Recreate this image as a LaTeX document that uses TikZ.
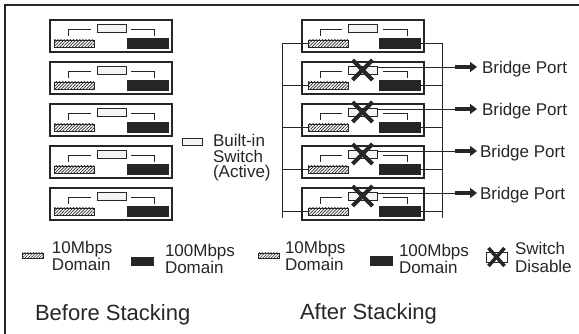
\documentclass[tikz,border=0pt]{standalone}
\usepackage{fontspec}
\setmainfont{Liberation Sans}
\usetikzlibrary{patterns.meta,arrows.meta,calc}
\definecolor{ink}{HTML}{262626}
\definecolor{swfill}{HTML}{F4F4F4}
\tikzset{
  every node/.style={inner sep=0pt,outer sep=0pt},
  unitbox/.style={draw=ink,line width=1.3pt,minimum width=122pt,minimum height=32pt,anchor=north west},
  swbox/.style={draw=ink,line width=0.8pt,fill=swfill,minimum width=29pt,minimum height=8pt,anchor=north west},
  hatchbox/.style={draw=ink,line width=0.7pt,pattern={Lines[angle=45,distance=2.2pt,line width=0.7pt]},pattern color=ink,minimum width=40pt,minimum height=7pt,anchor=north west},
  blackbox/.style={draw=ink,fill=ink,line width=0.6pt,minimum width=41pt,minimum height=10pt,anchor=north west},
  bracket/.style={draw=ink,line width=0.8pt},
  bus/.style={draw=ink,line width=0.9pt},
  xmark/.style={draw=ink,line width=4pt},
  bparrow/.style={draw=ink,line width=3.2pt,-{Triangle[length=7pt,width=10pt]}},
  frame/.style={draw=ink,line width=1.7pt},
  lbl/.style={font=\fontsize{17}{20}\selectfont,anchor=base west,text=ink},
  mlbl/.style={font=\fontsize{17}{#1}\selectfont,align=left,anchor=north west,text=ink},
  title/.style={font=\fontsize{22}{26}\selectfont,anchor=base west,text=ink},
}
\begin{document}
\begin{tikzpicture}[x=1pt,y=-1pt]
\useasboundingbox (0,0) rectangle (579,334);
\draw[frame] (5,334) -- (5,5) -- (579,5);

% ---------- Before stacking ----------
\foreach \i in {0,...,4}{
  \node[unitbox] (L\i) at (50,{20+42*\i}) {};
  \node[swbox] (Ls\i) at ($(L\i.north west)+(47,4)$) {};
  \node[hatchbox] (Lh\i) at ($(L\i.north west)+(4,20)$) {};
  \node[blackbox] (Lb\i) at ($(L\i.north west)+(77,18)$) {};
  \draw[bracket] ($(L\i.north west)+(18,16)$) |- ($(L\i.north west)+(41,9)$);
  \draw[bracket] ($(L\i.north west)+(81,9)$) -| ($(L\i.north west)+(104,16)$);
}

% ---------- After stacking ----------
\coordinate (lbtop) at (282,43.5);
\coordinate (lbbot) at (282,218);
\coordinate (rbtop) at (442,43);
\coordinate (rbbot) at (442,218);
\draw[bus] (lbtop) -- (lbbot);
\draw[bus] (rbtop) -- (rbbot);
\foreach \i in {0,...,4}{
  \node[unitbox] (R\i) at (302,{20+42*\i}) {};
  \node[swbox] (Rs\i) at ($(R\i.north west)+(46,4)$) {};
  \node[hatchbox] (Rh\i) at ($(R\i.north west)+(6,20)$) {};
  \node[blackbox] (Rb\i) at ($(R\i.north west)+(77,18)$) {};
  \draw[bracket] ($(R\i.north west)+(18,16)$) |- ($(R\i.north west)+(40,9)$);
  \draw[bracket] ($(R\i.north west)+(81,9)$) -| ($(R\i.north west)+(105,16)$);
  \draw[bus] (Rh\i.west) -- (Rh\i.west -| lbtop);
  \draw[bus] (Rb\i.east) -- (Rb\i.east -| rbtop);
}
\foreach \i/\tx in {1/482,2/482,3/480,4/480}{
  \draw[xmark] ($(Rs\i.center)+(-10,-10)$) -- ($(Rs\i.center)+(10,10)$);
  \draw[xmark] ($(Rs\i.center)+(-10,10)$) -- ($(Rs\i.center)+(10,-10)$);
  \node[lbl] (bp\i) at (\tx,{32+42*\i}) {Bridge Port};
  \coordinate (ba\i) at (455,{25+42*\i});
  \coordinate (bt\i) at (477,{25+42*\i});
  \draw[bus] ($(Rs\i.north east)+(0,1)$) -- (ba\i);
  \draw[bparrow] (ba\i) -- (bt\i);
}

% ---------- Built-in switch legend ----------
\node[swbox,minimum width=20pt,minimum height=7pt] (legsw) at (182,138) {};
\node[mlbl=15.5] (bi) at (213,134.6) {Built-in\\Switch\\(Active)};

% ---------- bottom legends ----------
\node[hatchbox,minimum width=21pt,minimum height=5pt,pattern={Lines[angle=45,distance=2pt,line width=0.5pt]}] (lg1) at (22,253) {};
\node[mlbl=17] (lg1t) at (52,241.6) {10Mbps\\Domain};
\node[blackbox,minimum width=22pt,minimum height=8pt] (lg2) at (131,257) {};
\node[mlbl=17] (lg2t) at (165,244.6) {100Mbps\\Domain};

\node[hatchbox,minimum width=21pt,minimum height=5pt,pattern={Lines[angle=45,distance=2pt,line width=0.5pt]}] (lg3) at (258,253) {};
\node[mlbl=17] (lg3t) at (285,241.6) {10Mbps\\Domain};
\node[blackbox,minimum width=22pt,minimum height=9pt] (lg4) at (370,256) {};
\node[mlbl=17] (lg4t) at (399,244.6) {100Mbps\\Domain};
\node[swbox,minimum width=21pt,minimum height=10pt,fill=white] (lg5) at (486,252) {};
\draw[xmark,line width=3.5pt] ($(lg5.center)+(-8,-9)$) -- ($(lg5.center)+(8,9)$);
\draw[xmark,line width=3.5pt] ($(lg5.center)+(-8,9)$) -- ($(lg5.center)+(8,-9)$);
\node[mlbl=18] (lg5t) at (515,242.4) {Switch\\Disable};

\node[title] (tb) at (35,320) {Before Stacking};
\node[title] (ta) at (300,319) {After Stacking};
\end{tikzpicture}
\end{document}
